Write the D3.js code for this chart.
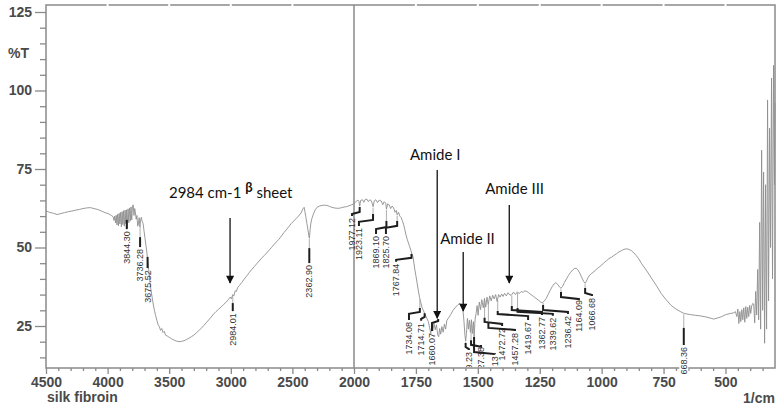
<!DOCTYPE html>
<html>
<head>
<meta charset="utf-8">
<script src="https://cdn.jsdelivr.net/npm/d3@7"></script>
<style>
body { margin: 0; background: #fff; }
svg { display: block; }
.axis text { font-family: "Liberation Sans", Arial, sans-serif; font-size: 14px; font-weight: bold; fill: #4a4a4a; }
.axis line { stroke: #8a8a8a; stroke-width: 1.3px; }
.axis path { display: none; }
.peak { font-family: "Liberation Sans Narrow", "Liberation Sans", sans-serif; font-size: 9px; fill: #333; }
.note { font-family: Lato, "Open Sans", sans-serif; font-size: 15px; fill: #111; }
</style>
</head>
<body>
<div id="chart"></div>
<script>

var width = 781,
    height = 410;

// spectrum (1/cm , %T)
var wavenumber = [4500,4470,4440,4410,4380,4350,4320,4290,4260,4230,4200,4170,4140,4110,4080,4050,4020,3990,3970,3955,
  3948,3942,3936,3930,3924,3918,3912,3906,3900,3894,3888,3882,3876,3870,3864,3858,3852,3846,3840,3834,3828,3822,3816,3810,3804,3798,3792,3786,3780,3774,3768,3762,3756,3750,3744,3738,3732,3726,3720,3712,
  3704,3696,3688,3680,3672,3664,3656,3648,3640,3630,3620,3610,3600,3590,3580,3570,3560,3550,3540,3530,3515,3500,3480,3460,3440,3420,3400,3380,3360,3340,3320,3300,3280,3260,3240,3220,3200,3180,3160,3140,3120,3100,3080,3060,3040,3020,3005,2995,2985,2975,2965,2955,2945,2930,2910,2890,2870,2850,2830,2810,2790,2770,2750,2730,2710,2690,2670,2650,2630,2610,2590,2570,2550,2530,2510,2490,2470,2450,2430,2415,2405,2398,2390,2382,2374,2366,2362,2356,2350,2342,2330,2315,2300,2280,2260,2240,2220,2200,2180,2160,2140,2120,2100,2080,2060,2040,2020,2000,
  1996,1990,1984,1980,1977,1973,1966,1960,1955,1948,1942,1936,1930,1923,1918,1912,1905,1898,1890,1884,1878,1872,1869,1864,1858,1852,1846,1840,1834,1829,1826,1820,1815,1810,1805,1800,1795,1790,1785,1780,1775,1770,1766,1762,1758,1754,1750,1745,1740,1735,1730,1725,1720,1715,1710,1705,1700,
  1695,1690,1686,1682,1677,1672,1667,1662,1658,1654,1650,1645,1640,1635,1630,1625,1618,1610,1600,1590,1580,1572,1565,1560,1556,1552,1549,1546,1542,1538,1534,1530,1526,1522,1518,1515,1511,1507,1503,1499,1494,1489,1484,1478,1473,1468,1463,1458,1452,1446,1440,1434,1428,1422,1416,1410,1404,1398,1392,1385,1378,1370,1363,1356,1348,1340,1333,1325,1318,1310,1302,1295,1285,1275,1265,1255,1247,1240,1232,1224,1216,1208,1200,1192,1185,1178,1170,1164,1158,1150,1142,1134,1126,1118,1110,1103,1096,1088,1080,1073,1067,1062,1055,1048,1040,1032,1024,1016,1008,1000,
  990,980,970,960,950,940,930,920,910,900,890,880,870,860,850,840,820,800,780,760,740,720,700,680,670,660,640,620,600,580,560,548,530,515,500,480,466,460,454,450,446,442,438,434,430,426,422,418,414,410,406,402,398,394,390,386,382,378,374,370,366,362,358,354,350,346,342,338,334,330,326,322,318,314,310,306,302,300];

var transmittance = [61.6,61.2,60.9,60.5,60.8,61.1,61.4,61.6,61.9,62.1,62.4,62.6,62.7,62.4,62.1,61.6,61.1,60.7,60.2,59.8,
  58.6,60.0,57.8,60.3,57.2,60.6,56.9,60.9,57.5,61.2,56.6,61.4,57.3,61.7,56.8,61.9,57.6,62.0,56.2,62.3,57.9,62.6,58.4,62.9,58.8,63.3,63.6,60.2,62.4,61.0,59.0,60.2,56.8,57.5,59.5,56.6,58.8,59.6,58.4,57.6,
  55.2,52.8,50.5,48.0,45.0,42.0,39.0,36.5,34.5,32.0,30.0,28.3,26.8,25.4,24.8,23.6,24.2,22.9,23.3,22.1,21.8,21.4,20.9,20.5,20.2,20.0,20.1,20.3,20.7,21.1,21.6,22.1,22.8,23.5,24.3,25.1,26.0,26.9,27.8,28.8,29.6,30.3,31.0,31.8,32.5,33.4,34.2,33.6,35.0,34.6,36.2,36.0,37.2,37.9,38.9,40.0,41.0,42.0,43.0,43.9,44.8,45.7,46.6,47.4,48.2,49.1,50.0,50.9,51.8,52.6,53.6,54.7,55.6,56.6,57.6,58.4,59.2,60.0,61.0,62.3,62.8,61.4,59.5,57.6,55.6,53.6,53.0,55.8,57.8,59.2,60.6,62.0,62.8,63.2,63.4,63.5,63.4,63.1,62.8,62.6,62.5,62.5,62.7,62.9,63.0,63.3,63.6,63.9,
  64.3,64.8,65.1,64.7,63.2,65.0,65.2,64.4,65.3,65.4,64.6,65.2,64.9,63.0,64.9,65.2,64.3,65.1,64.8,63.6,64.6,64.1,62.2,63.9,63.6,62.4,63.2,62.6,61.2,61.8,60.4,61.2,60.0,59.6,58.6,57.4,55.8,54.0,52.6,51.4,50.2,49.0,47.9,47.2,45.0,42.8,41.0,38.6,36.2,34.0,32.4,30.8,30.0,29.0,28.2,27.3,26.4,
  24.6,22.6,25.2,23.4,25.8,23.8,25.4,22.2,21.6,24.2,22.4,24.8,23.0,25.6,24.0,26.8,27.6,28.6,30.0,31.0,31.8,32.2,31.6,30.0,26.5,22.0,20.2,22.6,27.4,24.0,26.8,23.0,27.0,22.6,26.4,21.4,27.2,29.0,31.5,28.4,32.6,30.2,33.4,30.8,33.8,31.0,34.2,31.8,34.6,33.0,34.8,33.6,35.0,32.8,35.0,34.2,35.2,34.4,35.4,34.6,35.6,34.8,34.9,35.8,35.0,35.9,35.3,36.0,35.7,36.2,36.0,35.6,35.0,34.4,33.8,33.2,32.7,32.4,32.9,33.8,35.0,36.3,37.5,38.4,38.8,38.3,37.4,37.0,37.6,38.9,40.0,41.1,42.0,42.8,43.3,43.4,42.9,41.8,40.4,39.2,38.6,39.2,40.4,41.2,41.8,42.2,42.9,43.4,43.9,44.4,
  45.2,45.8,46.5,46.9,47.5,48.0,48.6,49.0,49.4,49.6,49.4,49.0,48.3,47.4,46.4,45.0,42.8,40.4,38.0,35.4,33.4,31.6,30.4,29.5,29.1,28.9,28.6,28.4,28.2,27.9,27.5,27.2,27.6,28.0,28.6,29.0,29.2,29.6,28.0,30.4,25.8,29.6,26.4,30.2,27.0,30.8,26.2,31.2,27.4,31.0,28.0,31.6,29.0,31.4,32.2,32.0,26.0,36.0,28.5,43.0,27.0,58.0,24.0,81.0,30.0,74.0,19.5,70.0,24.0,97.0,33.0,88.0,50.0,104.0,40.0,108.0,70.0,96.0];

// peak picks: label, peak position, where the text sits
var peakLabels = ["3844.30","3736.28","3675.52","2984.01","2362.90","1977.12","1923.11","1869.10","1825.70","1767.84","1734.08","1714.71","1660.07","1549.23","1527.38","1515.13","1472.72","1457.28","1419.67","1362.77","1339.62","1236.42","1164.09","1066.68","668.36"];
var peakWn     = [3844.30,3736.28,3675.52,2984.01,2362.90,1977.12,1923.11,1869.10,1825.70,1767.84,1734.08,1714.71,1660.07,1549.23,1527.38,1515.13,1472.72,1457.28,1419.67,1362.77,1339.62,1236.42,1164.09,1066.68,668.36];
var labelWn    = [3844.30,3736.28,3675.52,2984.01,2362.90,2016,1980,1911,1871,1830,1778,1729,1685,1536,1487,1431,1402,1350,1297,1241,1197,1136,1092,1039,668.36];
var leaderTopT = [58.8,53.3,47.0,32.3,49.8,62.9,60.7,58.4,58.4,47.9,30.7,29.1,27.2,19.6,20.5,21.5,27.6,26.3,29.8,31.4,30.7,31.7,35.8,37.1,24.4];
var leaderBendT= [55.9,50.2,43.5,29.8,45.1,61.3,58.8,56.5,56.9,46.7,29.5,27.9,26.6,18.3,19.0,16.7,26.3,24.4,28.8,30.1,29.5,30.1,34.2,35.5,24.4];
var labelTopT  = [55.2,49.5,42.8,29.1,44.4,59.4,56.2,53.7,53.7,44.8,26.3,26.0,22.8,16.7,18.3,15.4,24.4,22.8,26.3,27.9,27.6,28.2,33.3,33.9,18.3];

// hand annotations
var noteText   = ["2984 cm-1", "Amide I", "Amide II", "Amide III"];
var noteWn     = [3502, 1774, 1652, 1470];
var noteT      = [65.8, 77.9, 51.1, 67.0];
var arrowWn    = [3006, 1664, 1559, 1373];
var arrowFromT = [59.4, 74.7, 48.6, 63.5];
var arrowToT   = [38.7, 27.5, 29.8, 38.7];

var xMajor = [4500,4000,3500,3000,2500,2000,1750,1500,1250,1000,750,500];
var yMajor = [25,50,75,100,125];

var plotLeft = 46, plotRight = 775, plotTop = 5, plotBottom = 368;

// the axis doubles its scale below 2000 1/cm
var x = d3.scaleLinear()
    .domain([4500, 2000, 300])
    .range([plotLeft, 354, plotRight]);

var y = d3.scaleLinear()
    .domain([25, 125])
    .range([326, 12]);

var svg = d3.select("#chart").append("svg")
    .attr("width", width)
    .attr("height", height);

var frameColor = "#8a8a8a";

var defs = svg.append("defs");

// peak labels stop at the x axis (the instrument clips them)
defs.append("clipPath")
    .attr("id", "plotclip")
  .append("rect")
    .attr("x", plotLeft).attr("y", plotTop)
    .attr("width", plotRight - plotLeft).attr("height", plotBottom - plotTop - 1);

// frame
svg.append("rect")
    .attr("x", plotLeft).attr("y", plotTop)
    .attr("width", plotRight - plotLeft).attr("height", plotBottom - plotTop)
    .attr("fill", "none")
    .attr("stroke", frameColor)
    .attr("stroke-width", 1.5);

// scan gaps on the top border
svg.selectAll(".gap")
    .data(xMajor.filter(function(d) { return d != 2000 && d != 4500; }))
  .enter().append("line")
    .attr("x1", function(d) { return x(d); }).attr("x2", function(d) { return x(d); })
    .attr("y1", plotTop - 2).attr("y2", plotTop + 2)
    .attr("stroke", "#fff").attr("stroke-width", 2);

// break line at 2000
svg.append("line")
    .attr("x1", x(2000)).attr("x2", x(2000))
    .attr("y1", plotTop).attr("y2", plotBottom)
    .attr("stroke", frameColor)
    .attr("stroke-width", 1.5);

// y axis
svg.append("g")
    .attr("class", "axis")
    .attr("transform", "translate(" + plotLeft + ",0)")
    .call(d3.axisLeft(y).tickValues(yMajor).tickSize(11).tickPadding(3));

svg.append("g")
    .attr("class", "axis")
    .attr("transform", "translate(" + plotLeft + ",0)")
    .call(d3.axisLeft(y)
      .tickValues(d3.range(15, 126, 5).filter(function(d) { return d % 25 != 0; }))
      .tickSize(6).tickFormat(""));

// x axis
var xMinor = d3.range(4400, 2000, -100).filter(function(d) { return d % 500 != 0; })
    .concat(d3.range(1950, 340, -50).filter(function(d) { return d % 250 != 0; }));

svg.append("g")
    .attr("class", "axis")
    .attr("transform", "translate(0," + plotBottom + ")")
    .call(d3.axisBottom(x).tickValues(xMajor).tickSize(6).tickPadding(3).tickFormat(d3.format("d")));

svg.append("g")
    .attr("class", "axis")
    .attr("transform", "translate(0," + plotBottom + ")")
    .call(d3.axisBottom(x).tickValues(xMinor).tickSize(3).tickFormat(""));

svg.append("text")
    .attr("x", 8).attr("y", 58)
    .style("font-family", "Liberation Sans, Arial, sans-serif")
    .style("font-size", "14px").style("font-weight", "bold").style("fill", "#4a4a4a")
    .text("%T");

svg.append("text")
    .attr("x", 47).attr("y", 402)
    .style("font-family", "Liberation Sans, Arial, sans-serif")
    .style("font-size", "14px").style("font-weight", "bold").style("fill", "#4a4a4a")
    .text("silk fibroin");

svg.append("text")
    .attr("x", plotRight).attr("y", 403)
    .attr("text-anchor", "end")
    .style("font-family", "Liberation Sans, Arial, sans-serif")
    .style("font-size", "14px").style("font-weight", "bold").style("fill", "#4a4a4a")
    .text("1/cm");

// spectrum
var spectrum = wavenumber.map(function(w, i) { return [w, transmittance[i]]; });

var line = d3.line()
    .x(function(d) { return x(d[0]); })
    .y(function(d) { return y(d[1]); });

svg.append("path")
    .datum(spectrum)
    .attr("fill", "none")
    .attr("stroke", "#8e8e8e")
    .attr("stroke-width", 0.9)
    .attr("d", line);

function curveAt(w) {
  for (var i = 1; i < wavenumber.length; i++) {
    if (wavenumber[i] <= w) {
      var t = (wavenumber[i - 1] - w) / (wavenumber[i - 1] - wavenumber[i]);
      return transmittance[i - 1] + t * (transmittance[i] - transmittance[i - 1]);
    }
  }
  return transmittance[transmittance.length - 1];
}

// peak pick leaders and labels
var peaks = svg.append("g");

peakLabels.forEach(function(lab, i) {
  var px = x(peakWn[i]), lx = x(labelWn[i]);
  var y0 = y(curveAt(peakWn[i])) + 1,
      y1 = y(leaderTopT[i]),
      y2 = y(leaderBendT[i]),
      y3 = y(labelTopT[i]);

  var g = peaks.append("g");

  if (y1 > y0) {
    g.append("line")
      .attr("x1", px).attr("x2", px).attr("y1", y0).attr("y2", y1)
      .attr("stroke", "#999").attr("stroke-width", 0.8);
  }

  var pts = (lx == px) ? [[px, y1], [px, y3 - 2]]
                       : [[px, y1], [px, y2], [lx, y2 + 2], [lx, y3 - 2]];
  g.append("path")
    .attr("d", d3.line()(pts))
    .attr("fill", "none")
    .attr("stroke", "#1e1e1e")
    .attr("stroke-width", 2);

  var t = g.append("text")
    .attr("class", "peak")
    .attr("transform", "translate(" + lx + "," + y3 + ") rotate(-90)")
    .attr("text-anchor", "end")
    .attr("dy", "0.35em")
    .text(lab);

  var len = t.node().getComputedTextLength();
  if (i == peakLabels.length - 1) {
    // the last label runs through the x axis, blanking it
    g.insert("rect", "text")
      .attr("x", lx - 4.5).attr("y", y3)
      .attr("width", 9).attr("height", len)
      .attr("fill", "#fff");
  } else {
    g.attr("clip-path", "url(#plotclip)");
  }
});

// annotations
defs.append("marker")
    .attr("id", "head")
    .attr("viewBox", "0 0 10 10")
    .attr("refX", 9).attr("refY", 5)
    .attr("markerWidth", 9).attr("markerHeight", 8)
    .attr("markerUnits", "userSpaceOnUse")
    .attr("orient", "auto")
  .append("path")
    .attr("d", "M0,0L10,5L0,10Z")
    .attr("fill", "#111");

arrowWn.forEach(function(w, i) {
  svg.append("line")
    .attr("x1", x(w)).attr("x2", x(w))
    .attr("y1", y(arrowFromT[i])).attr("y2", y(arrowToT[i]))
    .attr("stroke", "#111")
    .attr("stroke-width", 1.3)
    .attr("marker-end", "url(#head)");
});

noteText.forEach(function(s, i) {
  var t = svg.append("text")
    .attr("class", "note")
    .attr("x", x(noteWn[i]))
    .attr("y", y(noteT[i]))
    .text(s);
  if (i == 0) {
    t.append("tspan").text(" ");
    t.append("tspan").attr("dy", -6).style("font-weight", "bold").style("font-size", "13px").text("\u03b2");
    t.append("tspan").attr("dy", 6).text(" sheet");
  }
});

</script>
</body>
</html>
